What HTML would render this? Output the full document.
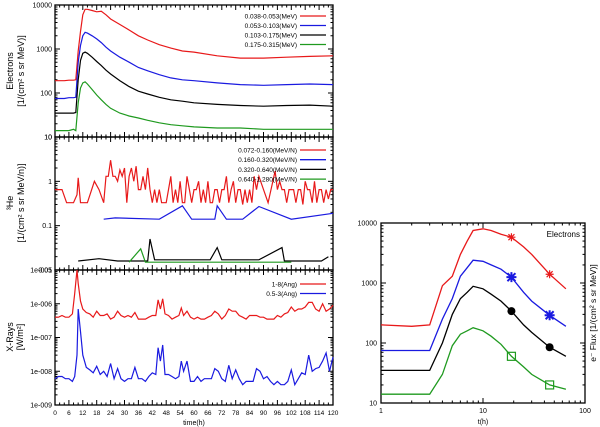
<!DOCTYPE html>
<html><head><meta charset="utf-8">
<style>
html,body{margin:0;padding:0;background:#fff;}
svg{display:block;font-family:"Liberation Sans",sans-serif;}
</style></head>
<body>
<svg id="c" width="600" height="427" viewBox="0 0 600 427" xmlns="http://www.w3.org/2000/svg"></svg>
<script>
// ---------- Panel 1: electrons ----------
const eTimes=[0,2,4,6,8,9,10,11,12,13,14,16,18,20,22,24,28,32,36,40,45,50,55,60,70,80,90,100,110,120];
const eRed=[190,190,190,195,195,200,900,2500,6000,8000,8000,7500,7000,7200,6000,4800,3600,2700,2000,1600,1250,1050,900,850,700,620,620,650,680,700];
const eBlue=[75,75,75,78,78,80,500,1200,2000,2400,2300,2000,1700,1400,1100,900,650,500,380,320,260,220,200,190,170,155,150,155,160,155];
const eBlack=[35,35,35,35,35,36,200,550,800,850,800,650,520,420,330,270,190,140,110,95,80,70,65,60,55,52,50,52,53,50];
const eGreen=[14,14,14,14,15,14,60,130,170,180,160,120,90,70,55,45,35,30,27,24,21,19,18,17,16,16,15,15,15,15];
const eLegend=["0.038-0.053(MeV)","0.053-0.103(MeV)","0.103-0.175(MeV)","0.175-0.315(MeV)"];
const p1Ticks=["10000","1000","100","10"];
// ---------- Panel 2: 3He ----------
const hRedT=[0,3,5,8,9.5,10,11,14,17,19,21,22,23,24,25,26,27,28,29,30,31,32,33,34,35,36,37,38,39,40,41,42,43,44,45,46,47,48,49,50,51,52,53,54,55,56,57,58,59,60,61,62,63,64,65,66,67,68,69,70,71,72,73,74,75,76,77,78,79,80,81,82,83,84,85,86,87,88,92,95,96,97,98,99,100,101,102,103,104,105,106,107,108,109,110,111,112,113,114,115,116,117,118,119,120];
const hRed=[0.65,0.65,0.33,0.33,0.5,1.2,0.33,0.33,1.0,0.65,0.33,1.3,1.3,3.0,1.3,1.3,1.0,1.8,1.3,2.0,0.33,1.3,2.0,1.0,2.2,0.65,0.65,1.3,0.65,2.0,0.65,0.33,0.65,0.33,0.65,0.33,0.33,0.33,0.65,1.3,0.33,0.65,0.33,1.0,0.33,0.33,1.3,0.65,0.33,0.65,0.65,1.0,0.33,0.65,0.33,1.0,0.33,0.33,0.65,0.65,0.33,0.65,0.65,1.3,0.33,0.65,1.0,0.33,0.65,0.65,0.3,0.65,0.33,0.65,0.33,1.3,0.65,1.3,0.33,1.7,0.65,1.0,0.65,0.65,0.33,0.65,0.65,0.65,0.33,0.65,0.65,0.3,1.0,0.65,0.65,0.33,1.0,0.33,0.65,0.65,0.33,0.65,0.4,0.65,0.65];
const hBlueT=[21,26,45,55,59,69,70,74,81,88,102,120];
const hBlue=[0.14,0.15,0.14,0.28,0.14,0.14,0.28,0.14,0.14,0.27,0.14,0.19];
const hBlackT=[10,19,27,40,41,43,50,67,70,72,88,98,99,115,118];
const hBlack=[0.016,0.018,0.016,0.016,0.05,0.017,0.017,0.017,0.032,0.017,0.017,0.032,0.016,0.016,0.02];
const hGreenT=[32,37,39,102];
const hGreen=[0.015,0.03,0.015,0.015];
const hLegend=["0.072-0.160(MeV/N)","0.160-0.320(MeV/N)","0.320-0.640(MeV/N)","0.640-1.280(MeV/N)"];
const p2Ticks=["10","1","0.1","0.01"];
// ---------- Panel 3: X-rays ----------
const xT=[0,1.5,3,4.5,6,7.5,8.5,9.5,10,11,12,13.5,15,16.5,18,19.5,21,22.5,24,25.5,27,28.5,30,31.5,33,34.5,36,37.5,39,40.5,42,43.5,44.5,45.5,46.5,47.5,49,50.5,52,53.5,54.5,55.5,57,58.5,60,61.5,63,64.5,66,67.5,69,70.5,72,73.5,75,76.5,78,79.5,81,82.5,84,85.5,87,88.5,90,91.5,93,94.5,96,97.5,99,100.5,102,103.5,105,106.5,108,109.5,111,112.5,114,115.5,117,118.5,120];
const xRed=[4e-7,4e-7,4.5e-7,4e-7,4e-7,5e-7,2e-6,1e-5,4e-6,1.2e-6,7e-7,5.5e-7,5e-7,4e-7,6e-7,4.5e-7,4.5e-7,5e-7,3.5e-7,4e-7,6e-7,4.5e-7,4e-7,4.5e-7,4e-7,5.5e-7,3.5e-7,3.5e-7,3.5e-7,4e-7,4.5e-7,4.5e-7,1.3e-6,7e-7,1.4e-6,5e-7,4.5e-7,3.5e-7,4e-7,4.5e-7,7.5e-7,4.5e-7,6e-7,4e-7,3.5e-7,4e-7,3.5e-7,3.5e-7,4e-7,4.5e-7,6e-7,5e-7,3.5e-7,4.5e-7,7e-7,6e-7,6e-7,4.5e-7,4e-7,3.5e-7,4.5e-7,4.5e-7,4.5e-7,4e-7,4e-7,3.5e-7,3.5e-7,3.5e-7,4.5e-7,4e-7,5e-7,5.5e-7,8e-7,6e-7,7e-7,7e-7,8e-7,1.1e-6,1.1e-6,7e-7,6e-7,1e-6,6e-7,7e-7,9e-7];
const xBlue=[6e-9,7e-9,7e-9,6e-9,6e-9,5e-9,7e-9,3e-8,7e-7,1.5e-7,3e-8,1.3e-8,1.1e-8,9e-9,1.4e-8,8e-9,1e-8,7e-9,1.7e-8,6e-9,1.2e-8,6e-9,5e-9,6e-9,6e-9,1.3e-8,6e-9,6e-9,5e-9,7e-9,9e-9,8e-9,5e-8,2e-8,6e-8,8e-9,8e-9,7e-9,6e-9,7e-9,2e-8,1e-8,2e-8,5e-9,5e-9,7e-9,5e-9,6e-9,6e-9,6e-9,1.2e-8,1e-8,6e-9,5e-9,1.5e-8,6e-9,1.1e-8,6e-9,4e-9,5e-9,5e-9,5e-9,1.2e-8,1e-8,6e-9,7e-9,5e-9,4e-9,5e-9,4e-9,4e-9,5e-9,1.1e-8,4e-9,6e-9,9e-9,8e-9,3e-8,1e-8,1.2e-8,1.3e-8,2e-8,3.5e-8,1e-8,2.6e-8];
const xLegend=["1-8(Ang)","0.5-3(Ang)"];
const p3Ticks=["1e-005","1e-006","1e-007","1e-008","1e-009"];
const timeTicks=["0","6","12","18","24","30","36","42","48","54","60","66","72","78","84","90","96","102","108","114","120"];
// ---------- Right panel ----------
const rT=[1,2,3,4,5,6,7,8,10,12,15,19,25,30,45,65];
const rRed=[200,190,200,900,1300,3000,5000,7500,8000,7500,6500,5800,4000,3000,1400,800];
const rBlue=[75,75,75,250,550,1300,1800,2400,2300,2000,1700,1250,700,500,290,190];
const rBlack=[35,35,35,100,300,550,700,880,800,650,500,340,200,150,85,60];
const rGreen=[14,14,14,30,90,140,160,180,160,130,95,60,40,30,20,17];
const rMarkT=[19,45];
const rXTicks=["1","10","100"];
const rYTicks=["10000","1000","100","10"];

const NS="http://www.w3.org/2000/svg";
const svg=document.getElementById('c');
function mk(tag,attrs,parent){const e=document.createElementNS(NS,tag);for(const k in attrs)e.setAttribute(k,attrs[k]);(parent||svg).appendChild(e);return e;}
function txt(s,x,y,size,anchor,parent,rot){const t=mk('text',{x:x,y:y,'font-size':size,'text-anchor':anchor||'start',fill:'#000'},parent);if(rot)t.setAttribute('transform',rot);t.textContent=s;return t;}

const L=55,R=333;
function xLin(t){return L+t/120*(R-L);}
function logY(top,bot,vmax,vmin){const a=Math.log10(vmax),b=Math.log10(vmin);return v=>top+(a-Math.log10(v))/(a-b)*(bot-top);}

function frame(name,top,bot,yMap,vmax,vmin,labels){
  const g=mk('g',{},svg);
  
  
  mk('rect',{x:L,y:top,width:R-L,height:bot-top,fill:'none',stroke:'#000','stroke-width':1.3},g);
  const a=Math.round(Math.log10(vmax)),b=Math.round(Math.log10(vmin));
  let i=0;
  for(let d=a;d>=b;d--){
    const y=yMap(Math.pow(10,d));
    mk('line',{x1:L,x2:L+5,y1:y,y2:y,stroke:'#000'},g);
    mk('line',{x1:R,x2:R-5,y1:y,y2:y,stroke:'#000'},g);
    if(labels[i]!==undefined){const t=txt(labels[i],L-3,y+2.5,7,'end',g);}
    i++;
    if(d>b)for(let m=2;m<10;m++){const yy=yMap(m*Math.pow(10,d-1));mk('line',{x1:L,x2:L+2.5,y1:yy,y2:yy,stroke:'#000'},g);mk('line',{x1:R,x2:R-2.5,y1:yy,y2:yy,stroke:'#000'},g);}
  }
  for(let t=0;t<=120;t+=2){const x=xLin(t);const len=t%6===0?5:2.5;mk('line',{x1:x,x2:x,y1:bot,y2:bot-len,stroke:'#000'},g);mk('line',{x1:x,x2:x,y1:top,y2:top+len,stroke:'#000'},g);}
  return g;
}
function series(name,ts,vs,xf,yf,color,w){
  let d='';ts.forEach((t,i)=>{d+=(i?'L':'M')+xf(t).toFixed(1)+','+yf(vs[i]).toFixed(1);});
  const p=mk('path',{d:d,fill:'none',stroke:color,'stroke-width':w||1.2});
  
  
  return p;
}
function legend(labels,colors,y0,dy){
  labels.forEach((s,i)=>{const y=y0+i*dy;
    const t=txt(s,297,y+2.5,6.5,'end');
    const l=mk('line',{x1:300,x2:326,y1:y,y2:y,stroke:colors[i],'stroke-width':1.3});});
}
const cols=['#e8191a','#1a1ae0','#000','#1f9a1f'];

// Panel 1
const y1=logY(5,137,10000,10);
frame('electrons-panel',5,137,y1,10000,10,p1Ticks);
series('electrons-0.038',eTimes,eRed,xLin,y1,cols[0]);
series('electrons-0.053',eTimes,eBlue,xLin,y1,cols[1]);
series('electrons-0.103',eTimes,eBlack,xLin,y1,cols[2]);
series('electrons-0.175',eTimes,eGreen,xLin,y1,cols[3]);
legend(eLegend,cols,16,9.5);
txt('Electrons',13,71,9,'middle',svg,'rotate(-90 13 71)');
txt('[1/(cm\u00B2 s sr MeV)]',24,71,9,'middle',svg,'rotate(-90 24 71)');

// Panel 2
const y2=logY(137,270,10,0.01);
frame('he3-panel',137,270,y2,10,0.01,p2Ticks);
series('he3-0.072',hRedT,hRed,xLin,y2,cols[0]);
series('he3-0.160',hBlueT,hBlue,xLin,y2,cols[1]);
series('he3-0.320',hBlackT,hBlack,xLin,y2,cols[2]);
series('he3-0.640',hGreenT,hGreen,xLin,y2,cols[3]);
legend(hLegend,cols,150,9.7);
txt('\u00B3He',13,203,9,'middle',svg,'rotate(-90 13 203)');
txt('[1/(cm\u00B2 s sr MeV/n)]',24,203,9,'middle',svg,'rotate(-90 24 203)');

// Panel 3
const y3=logY(270,405,1e-5,1e-9);
frame('xray-panel',270,405,y3,1e-5,1e-9,p3Ticks);
series('xray-1-8',xT,xRed,xLin,y3,cols[0]);
series('xray-0.5-3',xT,xBlue,xLin,y3,cols[1]);
legend(xLegend,cols,284,9.5);
txt('X-Rays',13,337,9,'middle',svg,'rotate(-90 13 337)');
txt('[W/m\u00B2]',23,337,9,'middle',svg,'rotate(-90 23 337)');
timeTicks.forEach((s,i)=>{const t=txt(s,xLin(i*6),415,6.5,'middle');});
txt('time(h)',194,425,7,'middle');

// Right panel
const RL=381,RR=585,RT=223,RB=403;
const rx=t=>RL+Math.log10(t)/2*(RR-RL);
const ry=logY(RT,RB,10000,10);
const rg=mk('g',{});


mk('rect',{x:RL,y:RT,width:RR-RL,height:RB-RT,fill:'none',stroke:'#000','stroke-width':1.3},rg);
for(let d=4,i=0;d>=1;d--,i++){const y=ry(Math.pow(10,d));mk('line',{x1:RL,x2:RL+5,y1:y,y2:y,stroke:'#000'},rg);mk('line',{x1:RR,x2:RR-5,y1:y,y2:y,stroke:'#000'},rg);
  const t=txt(rYTicks[i],RL-4,y+2.5,7,'end',rg);
  if(d>1)for(let m=2;m<10;m++){const yy=ry(m*Math.pow(10,d-1));mk('line',{x1:RL,x2:RL+2.5,y1:yy,y2:yy,stroke:'#000'},rg);mk('line',{x1:RR,x2:RR-2.5,y1:yy,y2:yy,stroke:'#000'},rg);}}
for(let d=0;d<=2;d++){const x=rx(Math.pow(10,d));mk('line',{x1:x,x2:x,y1:RB,y2:RB-5,stroke:'#000'},rg);mk('line',{x1:x,x2:x,y1:RT,y2:RT+5,stroke:'#000'},rg);
  const t=txt(rXTicks[d],x,413,7,'middle',rg);
  if(d<2)for(let m=2;m<10;m++){const xx=rx(m*Math.pow(10,d));mk('line',{x1:xx,x2:xx,y1:RB,y2:RB-2.5,stroke:'#000'},rg);mk('line',{x1:xx,x2:xx,y1:RT,y2:RT+2.5,stroke:'#000'},rg);}}
series('right-red',rT,rRed,rx,ry,cols[0],1.3);
series('right-blue',rT,rBlue,rx,ry,cols[1],1.3);
series('right-black',rT,rBlack,rx,ry,cols[2],1.3);
series('right-green',rT,rGreen,rx,ry,cols[3],1.3);
function interp(ts,vs,t){for(let i=1;i<ts.length;i++)if(t<=ts[i]){const f=(Math.log10(t)-Math.log10(ts[i-1]))/(Math.log10(ts[i])-Math.log10(ts[i-1]));return Math.pow(10,Math.log10(vs[i-1])+f*(Math.log10(vs[i])-Math.log10(vs[i-1])));}return vs[vs.length-1];}
rMarkT.forEach(t=>{
  let x=rx(t),y=ry(interp(rT,rRed,t));
  let m=mk('path',{d:`M${x-4},${y}H${x+4}M${x},${y-4}V${y+4}M${x-3},${y-3}L${x+3},${y+3}M${x-3},${y+3}L${x+3},${y-3}`,stroke:cols[0],'stroke-width':1.2});
  
  y=ry(interp(rT,rBlue,t));
  m=mk('path',{d:`M${x-5},${y}H${x+5}M${x},${y-5}V${y+5}M${x-4},${y-4}L${x+4},${y+4}M${x-4},${y+4}L${x+4},${y-4}`,stroke:cols[1],'stroke-width':2});
  
  y=ry(interp(rT,rBlack,t));
  m=mk('circle',{cx:x,cy:y,r:4,fill:'#000'});
  
  y=ry(interp(rT,rGreen,t));
  m=mk('rect',{x:x-4,y:y-4,width:8,height:8,fill:'none',stroke:cols[3],'stroke-width':1.2});
  
});
txt('Electrons',580,237,8,'end');
txt('t(h)',483,424,7,'middle');
txt('e\u207B Flux [1/(cm\u00B2 s sr MeV)]',596,313,8.5,'middle',svg,'rotate(-90 596 313)');
</script>
</body></html>
